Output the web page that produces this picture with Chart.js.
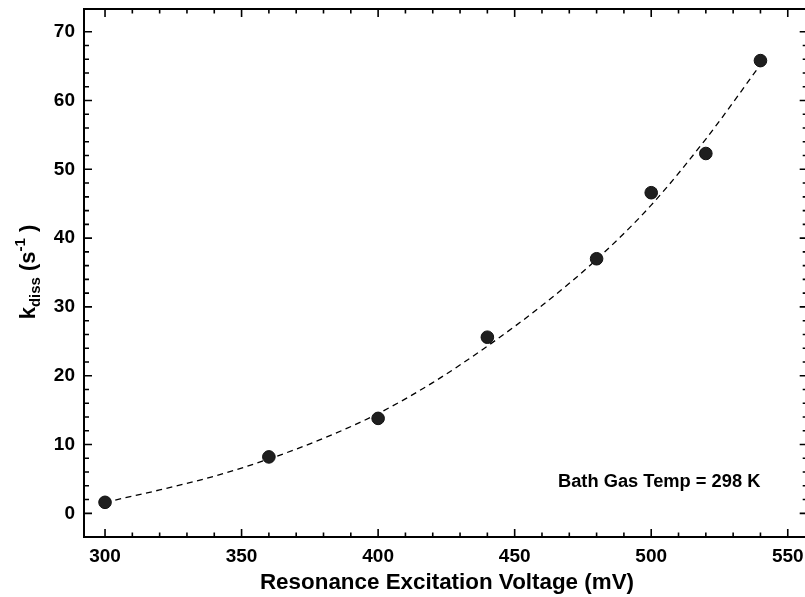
<!DOCTYPE html>
<html>
<head>
<meta charset="utf-8">
<script src="https://cdn.jsdelivr.net/npm/chart.js@4.4.1/dist/chart.umd.min.js"></script>
<style>
  html, body { margin: 0; padding: 0; background: #fff; overflow: hidden; width: 805px; height: 597px; }
  canvas { display: block; }
</style>
</head>
<body>
<canvas id="c" width="815" height="597"></canvas>
<script>
// ---- data ----
const voltages = [300, 360, 400, 440, 480, 500, 520, 540];
const kdiss    = [1.6, 8.2, 13.8, 25.6, 37.0, 46.6, 52.3, 65.8];

const fitVoltages = [300, 320, 340, 360, 380, 400, 420, 440, 460, 480, 500, 520, 540];
const fitK        = [1.6, 3.4, 5.4, 7.9, 10.9, 14.5, 19.0, 24.3, 30.2, 36.9, 44.8, 54.4, 65.2];

const xTickLabels = [300, 350, 400, 450, 500, 550];
const yTickLabels = [0, 10, 20, 30, 40, 50, 60, 70];

const xTitle = 'Resonance Excitation Voltage (mV)';
const annotationText = 'Bath Gas Temp = 298 K';

const FONT = '"Liberation Sans", Arial, Helvetica, sans-serif';

const zeroPad = () => ({ left: 0, top: 0, right: 0, bottom: 0 });

const framePlugin = {
  id: 'frame',
  afterDraw(chart) {
    const { ctx, chartArea, scales } = chart;
    const { left, right, top, bottom } = chartArea;
    const x = scales.x, y = scales.y;
    ctx.save();
    ctx.strokeStyle = '#000';
    ctx.lineWidth = 2;
    ctx.strokeRect(left, top, right - left, bottom - top);
    ctx.lineWidth = 1.6;
    ctx.beginPath();
    for (let v = 300; v <= 550; v += 10) {
      const px = x.getPixelForValue(v);
      const L = (v % 50 === 0) ? 8 : 4.5;
      ctx.moveTo(px, bottom); ctx.lineTo(px, bottom - L);
      ctx.moveTo(px, top); ctx.lineTo(px, top + L);
    }
    for (let v = 0; v <= 70; v += 2) {
      const py = y.getPixelForValue(v);
      const L = (v % 10 === 0) ? 8 : 5;
      ctx.moveTo(left, py); ctx.lineTo(left + L, py);
      ctx.moveTo(right, py); ctx.lineTo(right - L, py);
    }
    ctx.stroke();

    // x title
    ctx.fillStyle = '#000';
    ctx.font = 'bold 22.4px ' + FONT;
    ctx.textAlign = 'center';
    ctx.textBaseline = 'middle';
    ctx.fillText(xTitle, 447, 583);

    // annotation
    ctx.font = 'bold 18.3px ' + FONT;
    ctx.textAlign = 'left';
    ctx.textBaseline = 'alphabetic';
    ctx.fillText(annotationText, 558, 487);

    // y title with sub/superscript
    const big = 'bold 22px ' + FONT;
    const small = 'bold 15px ' + FONT;
    const parts = [
      { t: 'k', f: big, dy: 0 },
      { t: 'diss', f: small, dy: 5 },
      { t: ' (s', f: big, dy: 0 },
      { t: '-1', f: small, dy: -10 },
      { t: ' )', f: big, dy: 0 }
    ];
    let total = 0;
    parts.forEach(p => { ctx.font = p.f; p.w = ctx.measureText(p.t).width; total += p.w; });
    ctx.translate(35, 272 + total / 2);
    ctx.rotate(-Math.PI / 2);
    let cx = 0;
    parts.forEach(p => { ctx.font = p.f; ctx.fillText(p.t, cx, p.dy); cx += p.w; });
    ctx.restore();
  }
};

const chart = new Chart(document.getElementById('c'), {
  type: 'scatter',
  data: {
    datasets: [
      {
        label: 'data',
        data: voltages.map((v, i) => ({ x: v, y: kdiss[i] })),
        pointRadius: 6.3,
        pointHoverRadius: 6.3,
        backgroundColor: '#1f1f1f',
        borderColor: '#111',
        borderWidth: 1,
        showLine: false
      },
      {
        type: 'line',
        label: 'fit',
        data: fitVoltages.map((v, i) => ({ x: v, y: fitK[i] })),
        borderColor: '#000',
        borderWidth: 1.3,
        borderDash: [6, 4.5],
        pointRadius: 0,
        fill: false,
        cubicInterpolationMode: 'monotone'
      }
    ]
  },
  options: {
    responsive: false,
    animation: false,
    layout: { padding: { top: 9, right: 0, left: 0, bottom: 0 } },
    plugins: { legend: { display: false }, tooltip: { enabled: false } },
    scales: {
      x: {
        type: 'linear',
        min: 292.3,
        max: 557.3,
        grid: { display: false, drawTicks: false, tickLength: 0 },
        border: { display: false },
        afterFit(s) { s.height = 60; s.paddingLeft = 0; s.paddingRight = 0; s.paddingTop = 0; s.paddingBottom = 0; s.getPadding = zeroPad; },
        afterBuildTicks(s) { s.ticks = xTickLabels.map(v => ({ value: v })); },
        ticks: {
          color: '#000',
          font: { family: FONT, size: 19, weight: 'bold' },
          padding: 8,
          maxRotation: 0,
          autoSkip: false
        }
      },
      y: {
        type: 'linear',
        min: -3.44,
        max: 73.3,
        grid: { display: false, drawTicks: false, tickLength: 0 },
        border: { display: false },
        afterFit(s) { s.width = 84; s.paddingLeft = 0; s.paddingRight = 0; s.paddingTop = 0; s.paddingBottom = 0; s.getPadding = zeroPad; },
        afterBuildTicks(s) { s.ticks = yTickLabels.map(v => ({ value: v })); },
        ticks: {
          color: '#000',
          font: { family: FONT, size: 19, weight: 'bold' },
          padding: 9,
          autoSkip: false
        }
      }
    }
  },
  plugins: [framePlugin]
});

// nudge the plot-area right edge to 807px (just outside the visible window)
for (let i = 0; i < 3; i++) {
  const diff = 807 - chart.chartArea.right;
  if (Math.abs(diff) < 0.5) break;
  chart.options.layout.padding.right -= diff;
  chart.update();
}
</script>
</body>
</html>
